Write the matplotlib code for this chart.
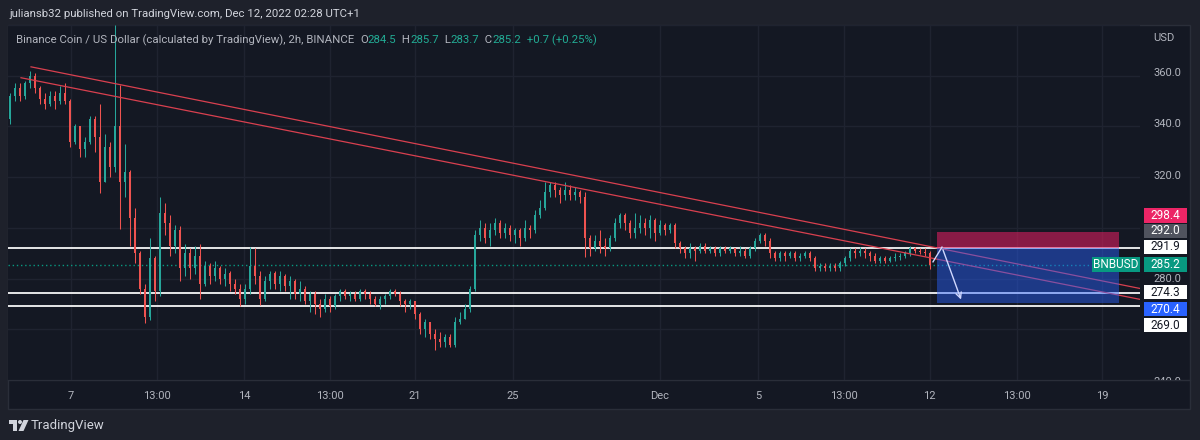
import numpy as np
import matplotlib.pyplot as plt
import matplotlib.transforms as mtransforms
from matplotlib.patches import Rectangle, Polygon, Ellipse
from matplotlib.lines import Line2D

plt.rcParams['font.family'] = ['Roboto', 'DejaVu Sans']

# BNB/USD candles (one candle ~ 5h)
first_open = 343.0
closes = [352, 355, 352, 357, 360, 355, 351, 349, 352, 350, 353, 350,
          334, 340, 331, 334, 343, 336, 318, 332, 324, 340, 318, 322, 304, 290, 276, 265, 288, 275,
          306, 302, 293, 299, 284, 290, 284, 289, 278, 285, 281, 284, 280, 282, 278, 276, 272,
          276, 285, 281, 272, 279, 282, 278, 281, 277, 279, 274, 276, 271, 274, 270, 268, 272, 269, 273,
          275, 273, 274, 272, 275, 274, 272, 270, 272, 273, 275, 274, 271, 270, 271, 266, 260, 263, 258,
          256, 255, 257, 254, 263, 264, 268, 276,
          297, 300, 296, 299, 302, 298, 300, 297, 299, 296, 300, 299, 305, 308, 314, 317, 315, 313, 315,
          313, 314, 312,
          296, 292, 295, 293, 292, 296, 302, 305, 302, 298, 300, 302, 300, 303, 298, 301, 299, 301,
          294, 292, 290, 292, 291, 293, 291, 292, 290, 292, 291, 292, 290, 291, 289, 292, 295, 297, 295,
          290, 288, 290, 289, 290, 288, 289, 290, 288,
          284, 285, 284, 285, 284, 286, 288, 291, 290, 291, 290, 289, 287, 288, 287, 288, 288.5, 289,
          290, 292, 291, 290.5, 290, 285.2]
highs = [353, 357, 357, 358, 362, 361, 356, 353, 354, 354, 356, 357,
         351, 341, 339, 336, 344, 344, 348.7, 337, 334, 380, 356.5, 333, 323, 308, 291, 278, 296, 289,
         312, 310, 305, 301, 300.6, 293.6, 292, 293, 293.6, 287, 286, 287, 285, 284, 283, 280, 278,
         278, 292.4, 292, 283, 281, 283, 283, 283, 282, 281, 280, 279, 277, 275, 275, 272, 274, 273, 274,
         276, 276, 275, 275, 276, 276, 275, 273, 273, 274, 276, 276, 275, 272, 272, 271, 267, 264, 263,
         260, 259, 258, 258, 265, 267, 270, 277,
         299, 303, 302, 302, 304, 303, 302, 301, 300, 300, 303, 301, 307, 311, 318, 318, 318, 316, 318,
         317, 316, 315,
         314, 297, 297, 299, 296, 297, 304, 306, 306, 303, 306, 305, 304, 305, 304, 303, 302, 302,
         302, 295, 293, 294, 293, 294, 294, 293, 293, 293, 293, 293, 292, 293, 292, 293, 296, 298, 298,
         296, 291, 291, 291, 291, 291, 290, 291, 291,
         289, 286, 286, 286, 286, 287, 289, 292, 292, 292.5, 292, 291, 290, 289, 289, 289, 290, 290,
         291, 293, 292.5, 292, 292, 291]
lows = [341, 350, 350, 351, 355, 353, 349, 347, 348, 347, 349, 349,
        332, 333, 328, 328, 333, 330, 313.8, 319, 320, 322, 299.4, 312, 293, 286, 274, 262.5, 263.7, 271,
        273, 297, 289, 290, 279, 281, 280, 282, 272, 277, 278, 279, 278, 277, 275, 274, 269,
        270, 274, 278, 269.5, 271, 276, 276, 275, 275, 272, 272, 271, 270, 267, 266, 265, 267, 267, 268,
        271, 272, 271, 271, 271, 272, 270, 269, 268, 270, 272, 273, 269, 267, 268, 264, 258, 257, 256,
        252, 253, 253, 253, 253, 262, 264, 267,
        275, 295, 294, 293, 297, 296, 296, 295, 294, 293, 295, 296, 298, 304, 307, 312, 312, 310, 311,
        311, 311, 310,
        288.5, 289, 291, 290, 289, 291, 295, 300, 299, 296, 296, 298, 297, 296, 295, 297, 297, 298,
        292, 290, 288, 288, 287, 290, 290, 290, 289, 289, 290, 290, 289, 289, 288, 288, 291, 294, 293,
        288, 287, 287, 287, 288, 287, 287, 288, 287,
        283, 283, 283, 283, 283, 283, 285, 287, 288, 289, 288, 287, 286, 286, 286, 286.5, 287, 287.5,
        288, 289, 290, 289.5, 289, 283.7]

tick_pos = [12.2, 29.4, 46.8, 63.9, 81, 100.6, 130, 149.6, 166.8, 183.9, 201.3, 218.4]
tick_labels = ['7', '13:00', '14', '13:00', '21', '25', 'Dec', '5', '13:00', '12', '13:00', '19']
price_ticks = [360, 340, 320, 280, 240]

level_lines = [291.9, 274.3, 269.0]
last_price = 285.2
stop, entry, target = 298.4, 292.0, 270.4
upper_x, upper_y = [4.2, 226], [363.5, 276.1]
lower_x, lower_y = [2.2, 226], [359.2, 271.8]
box_x = [185.4, 221.8]
arrow_x, arrow_y = [184.6, 186.4, 190.4], [286.6, 292.4, 270.7]

# right price scale labels: text, y position, background, text colour
scale_labels = ['298.4', '292.0', '291.9', '285.2', '274.3', '270.4', '269.0']
scale_label_y = [304.66, 298.64, 292.43, 285.63, 274.95, 268.35, 262.14]
scale_bg = ['#ec2566', '#50535e', '#ffffff', '#089981', '#ffffff', '#2962ff', '#ffffff']
scale_fg = ['white', 'white', '#131722', 'white', '#131722', 'white', '#131722']

W, H = 1200, 440
panel = '#141823'
outer = '#1e212b'
txt = '#b2b5be'
grid_c = '#1f2330'

fig = plt.figure(figsize=(W / 100, H / 100), dpi=100)
fig.patch.set_facecolor(outer)


def fx(px):
    return px / W


def fy(py):
    return 1 - py / H


fig.patches.append(Rectangle((fx(8), fy(409)), fx(1182), 384 / H, transform=fig.transFigure,
                             facecolor=panel, edgecolor='#2a2e39', lw=1, zorder=-5))
fig.lines.append(Line2D([fx(8), fx(1190)], [fy(380), fy(380)], transform=fig.transFigure,
                        color='#2a2e39', lw=1, zorder=-4))

ylim = (240.8, 378.6)
ax = fig.add_axes([fx(8), fy(380), 1132 / W, 355 / H])
ax.set_facecolor(panel)
ax.set_xlim(-0.4, 226)
ax.set_ylim(*ylim)
for s in ax.spines.values():
    s.set_visible(False)
ax.set_yticks(range(240, 381, 20))
ax.set_yticklabels([])
ax.set_xticks(tick_pos)
ax.set_xticklabels(tick_labels, color=txt, fontsize=8)
ax.tick_params(length=0, pad=8)
ax.grid(color=grid_c, lw=1, zorder=0)
ax.set_axisbelow(True)

# candles
c = np.array(closes, dtype=float)
o = np.r_[first_open, c[:-1]]
h = np.maximum(np.array(highs, dtype=float), np.maximum(o, c))
l = np.minimum(np.array(lows, dtype=float), np.minimum(o, c))
x = np.arange(len(c))
col = np.where(c >= o, '#26a69a', '#ef5350')
ax.vlines(x, l, h, colors=col, lw=0.75, zorder=3)
ax.bar(x, np.maximum(np.abs(c - o), 0.3), bottom=np.minimum(o, c), width=0.45,
       color=col, lw=0, zorder=3)

# horizontal levels and last price
for lv in level_lines:
    ax.axhline(lv, color='white', lw=1.25, zorder=2)
ax.axhline(last_price, color='#089981', lw=1, ls=(0, (1, 2)), zorder=2)

# trend lines
ax.plot(upper_x, upper_y, color='#d9404f', lw=0.9, zorder=4)
ax.plot(lower_x, lower_y, color='#d9404f', lw=0.9, zorder=4)

# short position box
ax.add_patch(Rectangle((box_x[0], entry), box_x[1] - box_x[0], stop - entry,
                       facecolor='#e91e63', alpha=0.55, lw=0, zorder=5))
ax.add_patch(Rectangle((box_x[0], target), box_x[1] - box_x[0], entry - target,
                       facecolor='#2962ff', alpha=0.45, lw=0, zorder=5))

# projected path arrow
ax.plot(arrow_x[:2], arrow_y[:2], color='#d0d8ff', lw=1.0, zorder=6)
ax.annotate('', xy=(arrow_x[2], arrow_y[2]), xytext=(arrow_x[1], arrow_y[1]),
            arrowprops=dict(arrowstyle='->', color='#d0d8ff', lw=1.0, mutation_scale=10),
            zorder=6)

# symbol tag on the last price
tr = mtransforms.blended_transform_factory(ax.transAxes, ax.transData)
ax.add_patch(Rectangle((0.9576, scale_label_y[3] - 2.9), 0.0424, 5.8, transform=tr,
                       facecolor='#089981', lw=0, clip_on=False, zorder=7))
ax.text(0.9788, scale_label_y[3], 'BNBUSD', transform=tr, ha='center', va='center',
        color='white', fontsize=8.5, clip_on=False, zorder=8)

# price scale
ax2 = fig.add_axes([fx(1140), fy(380), 50 / W, 355 / H])
ax2.set_ylim(*ylim)
ax2.set_xlim(0, 1)
ax2.axis('off')
for p in price_ticks:
    ax2.text(0.26, p, f'{p:.1f}', color=txt, fontsize=8, va='center', ha='left', clip_on=True)
tr2 = mtransforms.blended_transform_factory(ax2.transAxes, ax2.transData)
for lab, yy, bg, fg in zip(scale_labels, scale_label_y, scale_bg, scale_fg):
    ax2.add_patch(Rectangle((0.08, yy - 2.85), 0.86, 5.7, transform=tr2, facecolor=bg, lw=0))
    ax2.text(0.51, yy, lab, transform=tr2, color=fg, fontsize=8.5, ha='center', va='center')
fig.text(fx(1153), fy(38), 'USD', color=txt, fontsize=8, va='center', ha='left')

# header
fig.text(fx(9), fy(14), 'juliansb32 published on TradingView.com, Dec 12, 2022 02:28 UTC+1',
         color='#d1d4dc', fontsize=8.2, va='center', ha='left')
parts = [('Binance Coin / US Dollar (calculated by TradingView), 2h, BINANCE  ', txt),
         ('O', txt), ('284.5', '#22ab94'), ('  H', txt), ('285.7', '#22ab94'),
         ('  L', txt), ('283.7', '#22ab94'), ('  C', txt), ('285.2', '#22ab94'),
         ('  +0.7 (+0.25%)', '#22ab94')]
for s, cc in parts:
    fig.text(0, 0, s, color=cc, fontsize=8.2, va='center', ha='left')
fig.canvas.draw()
rend = fig.canvas.get_renderer()
xpos = fx(16)
for t in fig.texts[-len(parts):]:
    t.set_position((xpos, fy(40)))
    bb = t.get_window_extent(rend)
    xpos += bb.width / W

# TradingView logo
logo_c = '#d1d4dc'
fig.patches.append(Polygon([(fx(9), fy(420)), (fx(17), fy(420)), (fx(17), fy(431)),
                            (fx(13), fy(431)), (fx(13), fy(424)), (fx(9), fy(424))],
                           closed=True, transform=fig.transFigure, facecolor=logo_c, lw=0))
fig.patches.append(Ellipse((fx(20), fy(422)), 4 / W, 4 / H, transform=fig.transFigure,
                           facecolor=logo_c, lw=0))
fig.patches.append(Polygon([(fx(23.5), fy(420)), (fx(28.5), fy(420)), (fx(23.5), fy(431)),
                            (fx(18.5), fy(431))],
                           closed=True, transform=fig.transFigure, facecolor=logo_c, lw=0))
fig.text(fx(31), fy(425.5), 'TradingView', color=logo_c, fontsize=9.5, va='center', ha='left')

fig.savefig('out.png', dpi=100, facecolor=outer)
